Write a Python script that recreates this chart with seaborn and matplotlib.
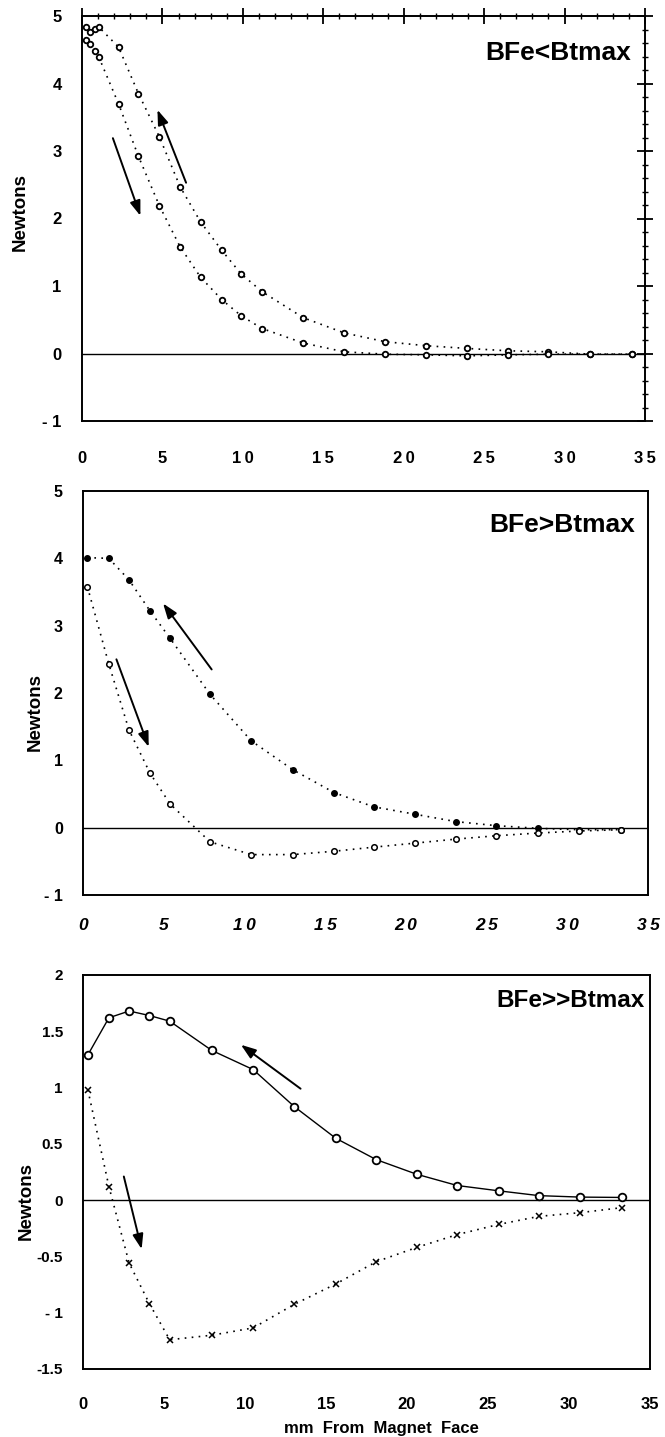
import matplotlib
matplotlib.use('Agg')
import matplotlib.pyplot as plt
import seaborn as sns
import pandas as pd
from matplotlib.ticker import MultipleLocator

sns.set_style('white', rc={'axes.edgecolor': 'black', 'text.color': 'black',
                           'xtick.color': 'black', 'ytick.color': 'black',
                           'axes.labelcolor': 'black'})
plt.rcParams['font.family'] = ['Liberation Sans', 'DejaVu Sans']
plt.rcParams['font.weight'] = 'bold'
plt.rcParams['axes.unicode_minus'] = False

# ---------------- data ----------------
x_ticks = [0, 5, 10, 15, 20, 25, 30, 35]
x_tick_labels_wide = ['0', '5', '1\u20090', '1\u20095', '2\u20090', '2\u20095', '3\u20090', '3\u20095']
x_tick_labels = ['0', '5', '10', '15', '20', '25', '30', '35']

top_title = 'BFe<Btmax'
top_x = [0.25, 0.52, 0.79, 1.03, 2.27, 3.51, 4.81, 6.1, 7.37, 8.68, 9.89, 11.2,
         13.76, 16.3, 18.84, 21.4, 23.95, 26.5, 29.0, 31.6, 34.2]
top_return = [4.84, 4.76, 4.81, 4.84, 4.54, 3.85, 3.21, 2.47, 1.95, 1.53, 1.18, 0.915,
              0.53, 0.305, 0.175, 0.115, 0.075, 0.04, 0.025, -0.01, -0.01]
top_approach = [4.64, 4.59, 4.48, 4.40, 3.70, 2.92, 2.19, 1.58, 1.13, 0.80, 0.56, 0.37,
                0.155, 0.025, -0.01, -0.02, -0.035, -0.02, -0.01, -0.01, -0.01]
top_y_ticks = [-1, 0, 1, 2, 3, 4, 5]
top_y_labels = ['- 1', '0', '1', '2', '3', '4', '5']

mid_title = 'BFe>Btmax'
mid_x = [0.27, 1.6, 2.85, 4.15, 5.4, 7.87, 10.42, 13.0, 15.56, 18.0, 20.55, 23.1,
         25.6, 28.16, 30.7, 33.3]
mid_return = [4.01, 4.0, 3.68, 3.22, 2.81, 1.98, 1.29, 0.86, 0.52, 0.31, 0.20, 0.09,
              0.03, -0.01, -0.03, -0.03]
mid_approach = [3.58, 2.43, 1.45, 0.81, 0.35, -0.21, -0.40, -0.40, -0.35, -0.29, -0.23,
                -0.17, -0.12, -0.08, -0.05, -0.03]
mid_y_ticks = [-1, 0, 1, 2, 3, 4, 5]
mid_y_labels = ['- 1', '0', '1', '2', '3', '4', '5']

bot_title = 'BFe>>Btmax'
bot_x = [0.3, 1.6, 2.85, 4.1, 5.35, 7.95, 10.5, 13.05, 15.6, 18.1, 20.6, 23.1,
         25.65, 28.15, 30.7, 33.3]
bot_return = [1.29, 1.62, 1.68, 1.64, 1.59, 1.33, 1.16, 0.83, 0.55, 0.36, 0.23, 0.13,
              0.083, 0.04, 0.027, 0.024]
bot_approach = [0.98, 0.12, -0.56, -0.92, -1.24, -1.20, -1.135, -0.925, -0.745, -0.547,
                -0.42, -0.306, -0.216, -0.144, -0.111, -0.066]
bot_y_ticks = [-1.5, -1, -0.5, 0, 0.5, 1, 1.5, 2]
bot_y_labels = ['-1.5', '- 1', '-0.5', '0', '0.5', '1', '1.5', '2']

# arrows: (tail_x, tail_y, tip_x, tip_y)
top_arrows = [(6.47, 2.53, 4.69, 3.61), (1.92, 3.19, 3.63, 2.04)]
mid_arrows = [(7.97, 2.35, 4.96, 3.33), (2.07, 2.50, 4.07, 1.20)]
bot_arrows = [(13.43, 0.99, 9.75, 1.38), (2.52, 0.21, 3.62, -0.435)]

y_label = 'Newtons'
x_label = 'mm  From  Magnet  Face'

W, H = 665, 1437
fig = plt.figure(figsize=(W / 100, H / 100), dpi=100)
ax1 = fig.add_axes([82 / W, 1 - 421 / H, 563 / W, 405 / H])
ax2 = fig.add_axes([83 / W, 1 - 895 / H, 565 / W, 404 / H])
ax3 = fig.add_axes([83 / W, 1 - 1369 / H, 567 / W, 394 / H])

dot = (0, (1, 3.2))


def draw_series(ax, xs, ys, ls, marker, ms, mfc, mew=1.1, lw=1.2):
    df = pd.DataFrame({'x': xs, 'y': ys})
    sns.lineplot(data=df, x='x', y='y', ax=ax, color='black', linestyle=ls, lw=lw,
                 marker=marker, markersize=ms, markerfacecolor=mfc,
                 markeredgecolor='black', markeredgewidth=mew, sort=False)


def draw_arrows(ax, arrows):
    for tx, ty, hx, hy in arrows:
        ax.annotate('', xy=(hx, hy), xytext=(tx, ty),
                    arrowprops=dict(arrowstyle='-|>,head_length=0.9,head_width=0.32',
                                    color='black', lw=1.4, shrinkA=0, shrinkB=0,
                                    mutation_scale=10))


# ---- top ----
draw_series(ax1, top_x, top_return, dot, 'o', 4, 'white', 1.3)
draw_series(ax1, top_x, top_approach, dot, 'o', 4, 'white', 1.3)
# ---- middle ----
draw_series(ax2, mid_x, mid_return, dot, 'o', 4, 'black', 1.0)
draw_series(ax2, mid_x, mid_approach, dot, 'o', 4, 'white', 1.1)
# ---- bottom ----
draw_series(ax3, bot_x, bot_return, '-', 'o', 5.5, 'white', 1.3, lw=1.0)
draw_series(ax3, bot_x, bot_approach, dot, 'x', 4, 'black', 1.1)

draw_arrows(ax1, top_arrows)
draw_arrows(ax2, mid_arrows)
draw_arrows(ax3, bot_arrows)

for ax in (ax1, ax2, ax3):
    ax.axhline(0, color='black', lw=1.0, zorder=1)
    ax.set_xlim(0, 35)
    ax.set_xticks(x_ticks)
    ax.xaxis.set_minor_locator(MultipleLocator(1))
    for s in ax.spines.values():
        s.set_linewidth(1.4)
        s.set_color('black')
    ax.set_xlabel('')
    ax.set_ylabel(y_label, fontsize=13.5, fontweight='bold')

# top axis styling
ax1.set_ylim(-1, 5)
ax1.set_yticks(top_y_ticks)
ax1.set_yticklabels(top_y_labels, fontsize=12, fontweight='bold')
ax1.set_xticklabels(x_tick_labels_wide, fontsize=12, fontweight='bold')
ax1.yaxis.set_minor_locator(MultipleLocator(0.2))
ax1.tick_params(axis='both', which='major', direction='inout', length=11.5, width=1.3,
                top=True, right=True)
ax1.tick_params(axis='x', which='major', pad=15.5)
ax1.tick_params(axis='y', which='major', pad=9)
ax1.tick_params(axis='both', which='minor', direction='inout', length=4, width=1.0,
                top=True, right=True)
ax1.text(0.975, 0.891, top_title, transform=ax1.transAxes, ha='right', va='baseline',
         fontsize=19, fontweight='bold')
ax1.yaxis.set_label_coords(-0.094, 0.516)

# middle axis styling
ax2.set_ylim(-1, 5)
ax2.set_yticks(mid_y_ticks)
ax2.set_yticklabels(mid_y_labels, fontsize=11.5, fontweight='bold')
ax2.set_xticklabels(x_tick_labels_wide, fontsize=12.5, fontweight='bold', fontstyle='italic')
ax2.yaxis.set_minor_locator(MultipleLocator(0.2))
ax2.tick_params(axis='both', which='major', direction='out', length=5.5, width=1.3,
                top=False, right=False)
ax2.tick_params(axis='both', which='minor', direction='out', length=3, width=1.0,
                top=False, right=False)
ax2.tick_params(axis='x', which='major', pad=11)
ax2.tick_params(axis='y', which='major', pad=9)
ax2.text(0.977, 0.899, mid_title, transform=ax2.transAxes, ha='right', va='baseline',
         fontsize=19, fontweight='bold')
ax2.yaxis.set_label_coords(-0.069, 0.453)

# bottom axis styling
ax3.set_ylim(-1.5, 2)
ax3.set_yticks(bot_y_ticks)
ax3.set_yticklabels(bot_y_labels, fontsize=11, fontweight='bold')
ax3.set_xticklabels(x_tick_labels, fontsize=12, fontweight='bold')
ax3.yaxis.set_minor_locator(MultipleLocator(0.1))
ax3.tick_params(axis='both', which='major', direction='out', length=5.5, width=1.3,
                top=False, right=False)
ax3.tick_params(axis='both', which='minor', direction='out', length=3, width=1.0,
                top=False, right=False)
ax3.tick_params(axis='x', which='major', pad=15)
ax3.tick_params(axis='y', which='major', pad=9)
ax3.text(0.991, 0.919, bot_title, transform=ax3.transAxes, ha='right', va='baseline',
         fontsize=17.5, fontweight='bold')
ax3.yaxis.set_label_coords(-0.085, 0.426)
ax3.set_xlabel(x_label, fontsize=12, fontweight='bold')
ax3.xaxis.set_label_coords(0.526, -0.131)

fig.savefig('out.png', dpi=100)
